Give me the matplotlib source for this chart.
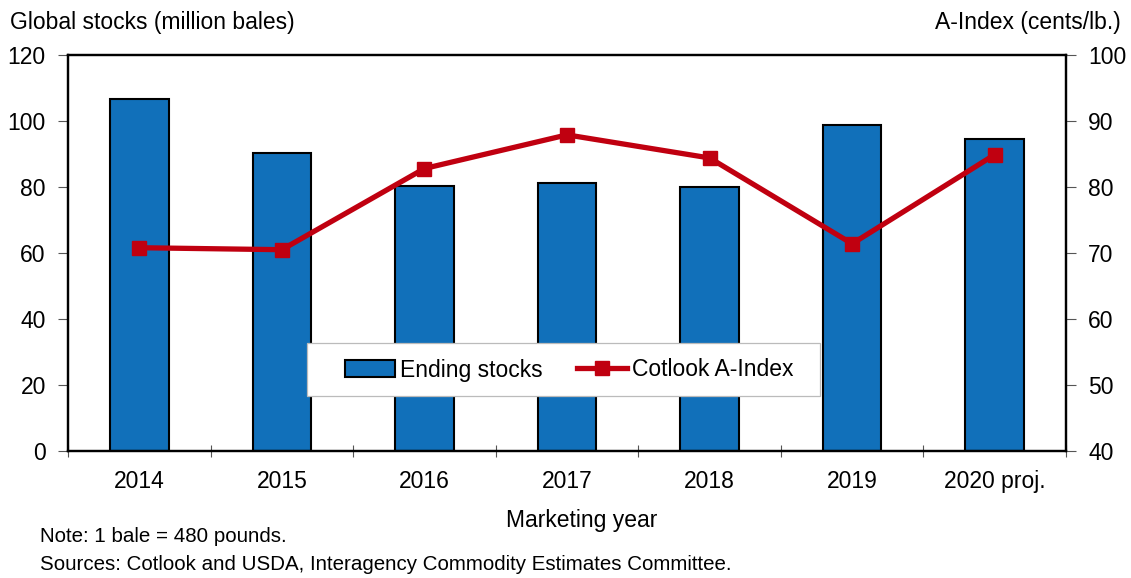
import matplotlib
matplotlib.use("Agg")
import matplotlib.pyplot as plt
from matplotlib.patches import Rectangle
import numpy as np

plt.rcParams['font.family'] = ['Liberation Sans', 'DejaVu Sans']

years = ["2014", "2015", "2016", "2017", "2018", "2019", "2020 proj."]
ending_stocks = [106.8, 90.2, 80.2, 81.1, 80.0, 98.8, 94.6]
a_index = [70.8, 70.5, 82.8, 87.9, 84.4, 71.4, 84.9]

bar_color = "#1170BA"
line_color = "#C00010"
fs = 16.5
fs_note = 14.8

W, H = 1131, 578
fig = plt.figure(figsize=(W / 100, H / 100), dpi=100)
ax = fig.add_axes([68 / W, 1 - 451 / H, 998 / W, 396 / H])
ax2 = ax.twinx()

x = np.arange(len(years))
bars = ax.bar(x, ending_stocks, width=0.41, color=bar_color, edgecolor="black",
              linewidth=1.5, zorder=2, label="Ending stocks")
line, = ax2.plot(x, a_index, color=line_color, linewidth=3.8, marker="s",
                 markersize=10, zorder=3, label="Cotlook A-Index")

ax.set_xlim(-0.5, len(years) - 0.5)
ax.set_ylim(0, 120)
ax2.set_ylim(40, 100)
ax.set_yticks(np.arange(0, 121, 20))
ax2.set_yticks(np.arange(40, 101, 10))

# category labels centred, tick marks on category boundaries
ax.set_xticks(x)
ax.set_xticklabels(years, fontsize=fs)
ax.tick_params(axis="x", length=0, pad=14)
ax.set_xticks(np.arange(-0.5, len(years)), minor=True)
ax.tick_params(axis="x", which="minor", length=8, direction="inout", width=0.8,
               color="#555555")

ax.tick_params(axis="y", labelsize=fs, length=7, direction="out", width=0.8,
               color="#555555", pad=9)
ax2.tick_params(axis="y", labelsize=fs, length=7, direction="out", width=0.8,
                color="#555555", pad=9)

for a in (ax, ax2):
    for s in a.spines.values():
        s.set_linewidth(1.6)
        s.set_color("black")

fig.text(10 / W, 1 - 22 / H, "Global stocks (million bales)", fontsize=fs,
         va="center", ha="left")
fig.text(1121 / W, 1 - 22 / H, "A-Index (cents/lb.)", fontsize=fs,
         va="center", ha="right")
fig.text(582 / W, 1 - 520 / H, "Marketing year", fontsize=fs,
         va="center", ha="center")
fig.text(40 / W, 1 - 537 / H, "Note: 1 bale = 480 pounds.", fontsize=fs_note,
         va="center", ha="left")
fig.text(40 / W, 1 - 565 / H,
         "Sources: Cotlook and USDA, Interagency Commodity Estimates Committee.",
         fontsize=fs_note, va="center", ha="left")

# legend box drawn as its own panel, entries placed inside it
box = Rectangle((307 / W, 1 - 396 / H), 513 / W, 53 / H, transform=fig.transFigure,
                facecolor="white", edgecolor="#bbbbbb", linewidth=0.9, zorder=4)
ax2.add_patch(box)
leg = ax2.legend([bars, line], ["Ending stocks", "Cotlook A-Index"], ncol=2,
                 loc="center left", bbox_to_anchor=(345 / W, 1 - 370 / H),
                 bbox_transform=fig.transFigure, fontsize=fs, frameon=False,
                 handlelength=2.2, columnspacing=1.5, borderpad=0,
                 handletextpad=0.2, borderaxespad=0)
leg.set_zorder(5)

fig.savefig("out.png", dpi=100)
